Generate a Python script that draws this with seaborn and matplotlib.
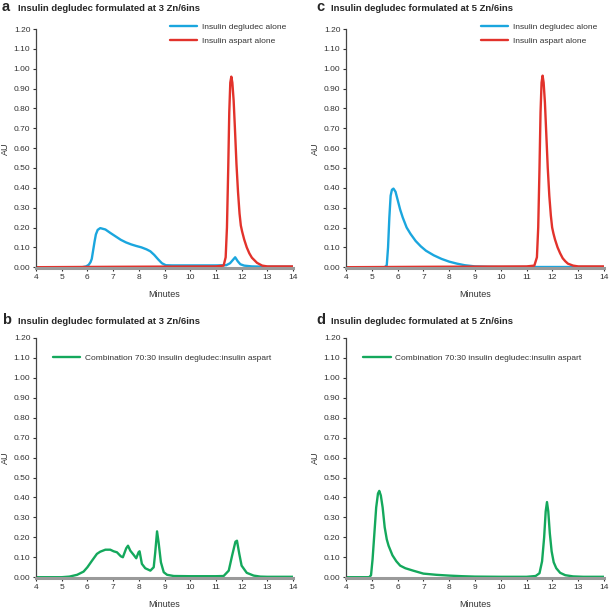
import matplotlib
matplotlib.use("Agg")
import matplotlib.pyplot as plt
import seaborn as sns
import pandas as pd

# --- data (minutes, AU) ---
a_deg_t = [4.0, 5.8, 5.95, 6.05, 6.12, 6.17, 6.23, 6.28, 6.33, 6.4, 6.5, 6.7, 6.9, 7.1, 7.3,
           7.5, 7.7, 7.9, 8.1, 8.3, 8.45, 8.6, 8.75, 8.9, 9.05, 9.3, 10.0, 11.0, 11.4, 11.55,
           11.65, 11.75, 11.85, 11.95, 12.1, 12.4, 13.0, 14.0]
a_deg_au = [0.0, 0.0, 0.004, 0.012, 0.025, 0.042, 0.09, 0.13, 0.165, 0.188, 0.197, 0.19, 0.172,
            0.155, 0.138, 0.125, 0.115, 0.107, 0.1, 0.09, 0.08, 0.062, 0.04, 0.02, 0.01, 0.009,
            0.009, 0.009, 0.01, 0.02, 0.035, 0.05, 0.03, 0.015, 0.008, 0.004, 0.002, 0.002]

a_asp_t = [4.0, 7.0, 9.0, 11.0, 11.3, 11.38, 11.43, 11.48, 11.52, 11.56, 11.6, 11.64, 11.69,
           11.74, 11.8, 11.86, 11.92, 11.97, 12.02, 12.1, 12.2, 12.3, 12.4, 12.5, 12.6, 12.8,
           13.0, 14.0]
a_asp_au = [0.0, 0.002, 0.003, 0.004, 0.008, 0.05, 0.2, 0.5, 0.78, 0.93, 0.96, 0.93, 0.84,
            0.7, 0.52, 0.38, 0.27, 0.21, 0.18, 0.14, 0.1, 0.07, 0.048, 0.035, 0.022, 0.008,
            0.004, 0.004]

c_deg_t = [4.0, 5.5, 5.58, 5.63, 5.68, 5.73, 5.78, 5.84, 5.92, 6.0, 6.1, 6.2, 6.35, 6.5, 6.7,
           6.9, 7.1, 7.4, 7.7, 8.0, 8.3, 8.6, 9.0, 9.5, 10.0, 14.0]
c_deg_au = [0.0, 0.0, 0.01, 0.1, 0.25, 0.36, 0.39, 0.396, 0.38, 0.34, 0.29, 0.25, 0.2, 0.168,
            0.132, 0.105, 0.083, 0.06, 0.042, 0.028, 0.018, 0.01, 0.004, 0.002, 0.001, 0.001]

c_asp_t = [4.0, 7.0, 9.0, 11.0, 11.3, 11.4, 11.45, 11.5, 11.54, 11.58, 11.62, 11.66, 11.71,
           11.76, 11.82, 11.88, 11.94, 11.99, 12.04, 12.1, 12.2, 12.3, 12.4, 12.5, 12.6, 12.8,
           13.0, 14.0]
c_asp_au = [0.0, 0.002, 0.003, 0.004, 0.008, 0.05, 0.2, 0.5, 0.78, 0.93, 0.965, 0.93, 0.83,
            0.68, 0.5, 0.36, 0.26, 0.2, 0.17, 0.14, 0.1, 0.07, 0.045, 0.03, 0.018, 0.008,
            0.004, 0.004]

b_mix_t = [4.0, 5.0, 5.3, 5.6, 5.85, 6.0, 6.18, 6.37, 6.5, 6.7, 6.89, 7.02, 7.15, 7.3, 7.38,
           7.51, 7.58, 7.67, 7.8, 7.9, 7.99, 8.03, 8.12, 8.25, 8.45, 8.58, 8.64, 8.71, 8.77,
           8.86, 8.97, 9.1, 9.36, 10.0, 11.0, 11.3, 11.5, 11.63, 11.76, 11.82, 11.91, 12.0,
           12.2, 12.47, 12.73, 13.0, 14.0]
b_mix_au = [0.0, 0.0, 0.003, 0.012, 0.028, 0.05, 0.083, 0.117, 0.128, 0.138, 0.138, 0.13,
            0.125, 0.105, 0.1, 0.145, 0.158, 0.133, 0.112, 0.095, 0.125, 0.13, 0.067, 0.045,
            0.033, 0.05, 0.125, 0.23, 0.175, 0.075, 0.025, 0.012, 0.006, 0.005, 0.005, 0.006,
            0.033, 0.108, 0.178, 0.183, 0.117, 0.058, 0.022, 0.008, 0.003, 0.002, 0.002]

d_mix_t = [4.0, 4.9, 4.97, 5.03, 5.1, 5.17, 5.24, 5.29, 5.35, 5.42, 5.5, 5.58, 5.65, 5.8,
           5.95, 6.1, 6.3, 6.6, 7.0, 7.5, 8.0, 8.5, 9.0, 10.0, 11.0, 11.35, 11.5, 11.6, 11.68,
           11.74, 11.79, 11.84, 11.9, 11.97, 12.05, 12.15, 12.3, 12.5, 12.8, 13.2, 14.0]
d_mix_au = [0.0, 0.0, 0.01, 0.09, 0.22, 0.35, 0.42, 0.433, 0.41, 0.35, 0.25, 0.19, 0.158,
            0.11, 0.08, 0.058, 0.045, 0.033, 0.018, 0.012, 0.008, 0.005, 0.003, 0.002, 0.002,
            0.006, 0.02, 0.08, 0.2, 0.33, 0.377, 0.33, 0.22, 0.13, 0.075, 0.045, 0.022, 0.01,
            0.004, 0.002, 0.002]

x_ticks = list(range(4, 15))
y_ticks = [i / 10 for i in range(13)]

BLUE = "#1AA6DE"
RED = "#E2322B"
GREEN = "#14A85C"
TXT = "#333333"

sns.set_style("ticks")
plt.rcParams["font.family"] = ["Liberation Sans", "DejaVu Sans"]

fig = plt.figure(figsize=(6.09, 6.08), dpi=100)
W, H = 609, 608


def add_ax(left, top, right, bottom):
    return fig.add_axes([left / W, 1 - bottom / H, (right - left) / W, (bottom - top) / H])


def style(ax):
    ax.set_xlim(4, 14)
    ax.set_ylim(-0.004, 1.2)
    ax.set_xticks(x_ticks)
    ax.set_yticks(y_ticks)
    ax.set_yticklabels([f"{v:.2f}" for v in y_ticks])
    sns.despine(ax=ax)
    ax.spines["left"].set_color("#444444")
    ax.spines["left"].set_linewidth(0.9)
    ax.spines["bottom"].set_color("#9a9a9a")
    ax.spines["bottom"].set_linewidth(2.2)
    ax.tick_params(axis="both", labelsize=6, colors=TXT, length=2.5, width=0.8, pad=1.5)
    ax.set_xlabel("Minutes", fontsize=6.5, color=TXT, labelpad=7)
    ax.set_ylabel("AU", fontsize=6.5, color=TXT)
    ax.yaxis.set_label_coords(-0.1, 0.5)


def title(x_letter, x_text, y, letter, text):
    fig.text(x_letter / W, 1 - y / H, letter, fontsize=10.5, fontweight="bold", va="baseline")
    fig.text(x_text / W, 1 - y / H, text, fontsize=6.8, fontweight="bold", va="baseline")


panels = [
    ("a", (36, 29, 293, 268), [(a_deg_t, a_deg_au, BLUE, "Insulin degludec alone"),
                               (a_asp_t, a_asp_au, RED, "Insulin aspart alone")], 3),
    ("c", (346, 29, 604, 268), [(c_deg_t, c_deg_au, BLUE, "Insulin degludec alone"),
                                (c_asp_t, c_asp_au, RED, "Insulin aspart alone")], 5),
    ("b", (36, 338, 293, 578), [(b_mix_t, b_mix_au, GREEN,
                                 "Combination 70:30 insulin degludec:insulin aspart")], 3),
    ("d", (346, 338, 604, 578), [(d_mix_t, d_mix_au, GREEN,
                                  "Combination 70:30 insulin degludec:insulin aspart")], 5),
]

for letter, box, series, zn in panels:
    ax = add_ax(*box)
    for t, au, col, lab in series:
        df = pd.DataFrame({"Minutes": t, "AU": au})
        sns.lineplot(data=df, x="Minutes", y="AU", color=col, linewidth=1.7,
                     label=lab, ax=ax, sort=False, estimator=None)
    style(ax)
    if len(series) == 2:
        ax.legend(loc="upper right", bbox_to_anchor=(0.985, 1.04), frameon=False,
                  fontsize=6, labelcolor=TXT, handlelength=3.3, handletextpad=0.5,
                  labelspacing=0.75, borderaxespad=0)
    else:
        ax.legend(loc="upper center", bbox_to_anchor=(0.49, 0.945), frameon=False,
                  fontsize=6, labelcolor=TXT, handlelength=3.3, handletextpad=0.5,
                  borderaxespad=0)
    if letter in ("a", "b"):
        xl, xt = 2, 18
    else:
        xl, xt = 316, 331
    ty = 11 if letter in ("a", "c") else 324
    title(xl, xt, ty, letter, f"Insulin degludec formulated at {zn} Zn/6ins")

fig.savefig("out.png", dpi=100)
